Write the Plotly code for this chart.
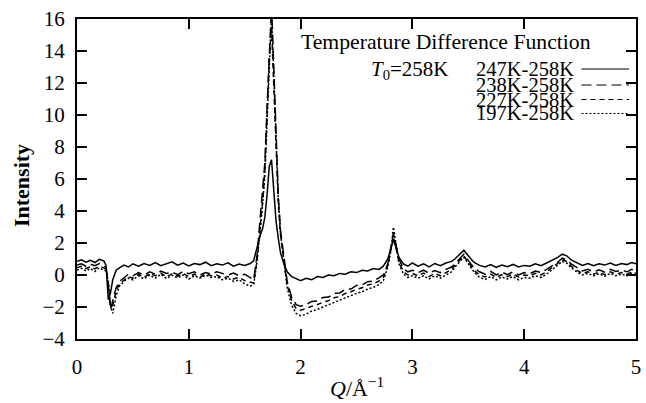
import plotly.graph_objects as go

# ---------------- data ----------------
Q = [0.00, 0.04, 0.08, 0.12, 0.16, 0.20, 0.24,
     0.26, 0.28, 0.30, 0.32, 0.35, 0.38, 0.42, 0.46, 0.50,
     0.55, 0.60, 0.65, 0.70, 0.75, 0.80, 0.85, 0.90, 0.95, 1.00, 1.05,
     1.10, 1.15, 1.20, 1.25, 1.30, 1.35, 1.40, 1.45, 1.50, 1.55,
     1.58, 1.61, 1.64, 1.66, 1.68, 1.70, 1.72, 1.74, 1.76, 1.78, 1.80,
     1.82, 1.85, 1.88, 1.92, 1.96, 2.00,
     2.05, 2.10, 2.15, 2.20, 2.25, 2.30, 2.35, 2.40, 2.45, 2.50, 2.55,
     2.60, 2.65, 2.70,
     2.74, 2.78, 2.81, 2.83, 2.85, 2.88, 2.92, 2.96, 3.00,
     3.05, 3.10, 3.15, 3.20, 3.25, 3.30, 3.35,
     3.38, 3.42, 3.46, 3.50, 3.55,
     3.60, 3.65, 3.70, 3.75, 3.80, 3.85, 3.90, 3.95, 4.00, 4.05, 4.10,
     4.15, 4.20, 4.25, 4.30,
     4.34, 4.38, 4.42, 4.47, 4.52, 4.57, 4.62, 4.67, 4.72, 4.77, 4.82,
     4.87, 4.92, 4.96, 5.00]

I_247 = [0.85, 0.95, 0.80, 0.92, 0.78, 0.98, 0.88,
         0.60, -1.55, -1.10, -0.30, 0.30, 0.45, 0.62, 0.50, 0.70,
         0.55, 0.72, 0.60, 0.78, 0.58, 0.70, 0.82, 0.62, 0.75, 0.57, 0.72,
         0.65, 0.80, 0.58, 0.70, 0.62, 0.76, 0.55, 0.68, 0.60, 0.72,
         0.9, 1.8, 2.5, 2.9, 3.6, 5.0, 6.8, 7.2, 5.2, 3.4, 2.3,
         1.4, 0.7, 0.2, -0.1, -0.25, -0.35,
         -0.2, -0.3, -0.1, -0.15, 0.0, -0.05, 0.1, 0.05, 0.2, 0.15, 0.3,
         0.25, 0.4, 0.35,
         0.55, 1.0, 1.7, 2.2, 1.8, 1.1, 0.7, 0.55, 0.75,
         0.55, 0.7, 0.5, 0.72, 0.58, 0.75, 0.85,
         1.0, 1.3, 1.55, 1.2, 0.8,
         0.6, 0.5, 0.65, 0.48, 0.62, 0.52, 0.66, 0.5, 0.6, 0.55, 0.7,
         0.58, 0.75, 0.9, 1.1,
         1.3, 1.2, 0.95, 0.75, 0.6, 0.72, 0.58, 0.7, 0.62, 0.75, 0.6,
         0.72, 0.65, 0.78, 0.7]

I_238 = [0.62, 0.70, 0.55, 0.68, 0.58, 0.72, 0.60,
         0.45, -0.6, -2.15, -1.6, -0.8, -0.4, -0.15, 0.05, -0.05,
         0.15, 0.0, 0.2, 0.05, 0.25, 0.1, 0.18, 0.02, 0.22, 0.08, 0.2,
         0.0, 0.15, 0.05, 0.2, 0.1, 0.0, 0.12, -0.05, 0.05, -0.2,
         -0.3, 1.2, 3.5, 5.0, 7.0, 10.5, 14.5, 16.8, 13.0, 8.5, 5.0,
         2.8, 1.0, -0.4, -1.4, -1.85, -1.95,
         -1.85, -1.65, -1.62, -1.40, -1.38, -1.15, -1.12, -0.90, -0.88, -0.65, -0.62,
         -0.42, -0.38, -0.18,
         0.0, 0.7, 1.8, 2.6, 2.0, 1.0, 0.4, 0.2, 0.3,
         0.15, 0.3, 0.1, 0.28, 0.15, 0.35, 0.5,
         0.7, 1.0, 1.3, 0.9, 0.45,
         0.2, 0.05, 0.22, 0.0, 0.18, 0.02, 0.2, 0.0, 0.15, 0.08, 0.25,
         0.15, 0.35, 0.55, 0.8,
         1.05, 0.95, 0.7, 0.45, 0.25, 0.35, 0.2, 0.32, 0.18, 0.35, 0.22,
         0.3, 0.2, 0.35, 0.25]

I_227 = [0.45, 0.55, 0.40, 0.52, 0.38, 0.55, 0.45,
         0.35, -0.5, -2.0, -1.9, -1.0, -0.55, -0.3, -0.1, -0.2,
         0.05, -0.15, 0.1, -0.05, 0.12, -0.12, 0.08, -0.08, 0.1, -0.1, 0.05,
         -0.15, 0.08, -0.05, 0.0, -0.2, -0.1, -0.25, -0.15, -0.35, -0.45,
         -0.5, 0.9, 3.0, 4.6, 6.5, 9.8, 13.5, 15.5, 12.0, 8.0, 4.6,
         2.5, 0.8, -0.6, -1.6, -2.1, -2.2,
         -2.1, -1.95, -1.85, -1.7, -1.6, -1.42, -1.35, -1.15, -1.05, -0.9, -0.8,
         -0.62, -0.55, -0.38,
         -0.15, 0.6, 1.6, 2.4, 1.8, 0.8, 0.2, 0.0, 0.1,
         -0.05, 0.12, -0.1, 0.1, -0.05, 0.15, 0.35,
         0.6, 0.9, 1.2, 0.8, 0.3,
         0.0, -0.12, 0.05, -0.15, 0.02, -0.1, 0.05, -0.12, 0.0, -0.05, 0.1,
         0.0, 0.2, 0.45, 0.7,
         0.95, 0.85, 0.55, 0.3, 0.1, 0.2, 0.05, 0.18, 0.02, 0.2, 0.05,
         0.15, 0.05, 0.2, 0.1]

I_197 = [0.30, 0.42, 0.25, 0.40, 0.22, 0.45, 0.30,
         0.25, -0.4, -1.9, -2.4, -1.3, -0.7, -0.4, -0.2, -0.3,
         -0.05, -0.25, 0.0, -0.2, 0.05, -0.22, -0.02, -0.18, 0.0, -0.25, -0.05,
         -0.2, 0.0, -0.15, -0.1, -0.3, -0.2, -0.4, -0.3, -0.55, -0.7,
         -0.6, 0.8, 2.8, 4.4, 6.2, 9.5, 13.0, 16.3, 12.5, 8.3, 4.8,
         2.6, 0.7, -0.8, -1.9, -2.4, -2.55,
         -2.45, -2.25, -2.15, -2.0, -1.85, -1.7, -1.6, -1.42, -1.3, -1.15, -1.05,
         -0.88, -0.78, -0.6,
         -0.35, 0.5, 1.6, 3.0, 2.1, 0.7, 0.05, -0.15, -0.05,
         -0.2, -0.05, -0.25, -0.05, -0.2, 0.0, 0.2,
         0.5, 0.8, 1.1, 0.7, 0.2,
         -0.15, -0.28, -0.1, -0.3, -0.12, -0.25, -0.1, -0.3, -0.15, -0.2, -0.05,
         -0.15, 0.05, 0.35, 0.6,
         0.85, 0.75, 0.45, 0.2, 0.0, 0.1, -0.05, 0.08, -0.08, 0.1, -0.05,
         0.05, -0.05, 0.1, 0.0]

series_names = ["247K-258K", "238K-258K", "227K-258K", "197K-258K"]
series_vals = [I_247, I_238, I_227, I_197]
x_ticks = [0, 1, 2, 3, 4, 5]
y_ticks = [-4, -2, 0, 2, 4, 6, 8, 10, 12, 14, 16]

# ---------------- styling ----------------
FONT = "Liberation Serif"
dashes = ["solid", "10px,5px", "5px,4px", "2px,2px"]
widths = [1.5, 1.5, 1.5, 1.5]

fig = go.Figure()
for name, vals, d, w in zip(series_names, series_vals, dashes, widths):
    fig.add_trace(go.Scatter(x=Q, y=vals, mode="lines", name=name,
                             line=dict(color="black", width=w, dash=d),
                             showlegend=False))

axis_common = dict(showline=True, linecolor="black", linewidth=2,
                   mirror="ticks", ticks="inside", ticklen=10, tickwidth=2,
                   tickcolor="black", showgrid=False, zeroline=False,
                   tickfont=dict(family=FONT, size=21, color="black"))

fig.update_xaxes(range=[0, 5], tickvals=x_ticks, ticklabelstandoff=8, **axis_common)
fig.update_yaxes(range=[-4, 16], tickvals=y_ticks, ticklabelstandoff=6, **axis_common)

ann = []
ann.append(dict(text="<b>Intensity</b>", x=-0.099, y=0.48, xref="paper", yref="paper",
                xanchor="center", yanchor="middle",
                textangle=-90, showarrow=False, font=dict(family=FONT, size=22, color="black")))
ann.append(dict(text="<i>Q</i>/Å<sup>−1</sup>", x=0.5, y=-0.15, xref="paper", yref="paper",
                xanchor="center", yanchor="middle",
                showarrow=False, font=dict(family=FONT, size=22, color="black")))
ann.append(dict(text="Temperature Difference Function", x=0.398, y=0.928, xref="paper",
                yref="paper", xanchor="left", yanchor="middle", showarrow=False,
                font=dict(family=FONT, size=21.7, color="black")))
ann.append(dict(text="<i>T</i><sub>0</sub>=258K", x=0.523, y=0.8406, xref="paper",
                yref="paper", xanchor="left", yanchor="middle", showarrow=False,
                font=dict(family=FONT, size=21, color="black")))
row_y = [0.8438, 0.7938, 0.7484, 0.7047]
shapes = []
for name, d, ry in zip(series_names, dashes, row_y):
    ann.append(dict(text=name, x=0.892, y=ry, xref="paper", yref="paper",
                    xanchor="right", yanchor="middle", showarrow=False,
                    font=dict(family=FONT, size=20.5, color="black")))
    shapes.append(dict(type="line", xref="paper", yref="paper", x0=0.9025, x1=0.9876,
                       y0=ry, y1=ry, line=dict(color="black", width=1.2, dash=d)))

fig.update_layout(width=646, height=403, margin=dict(l=77, r=5, t=19, b=64),
                  paper_bgcolor="white", plot_bgcolor="white",
                  annotations=ann, shapes=shapes,
                  font=dict(family=FONT, color="black"))

fig.write_html("out.html")
